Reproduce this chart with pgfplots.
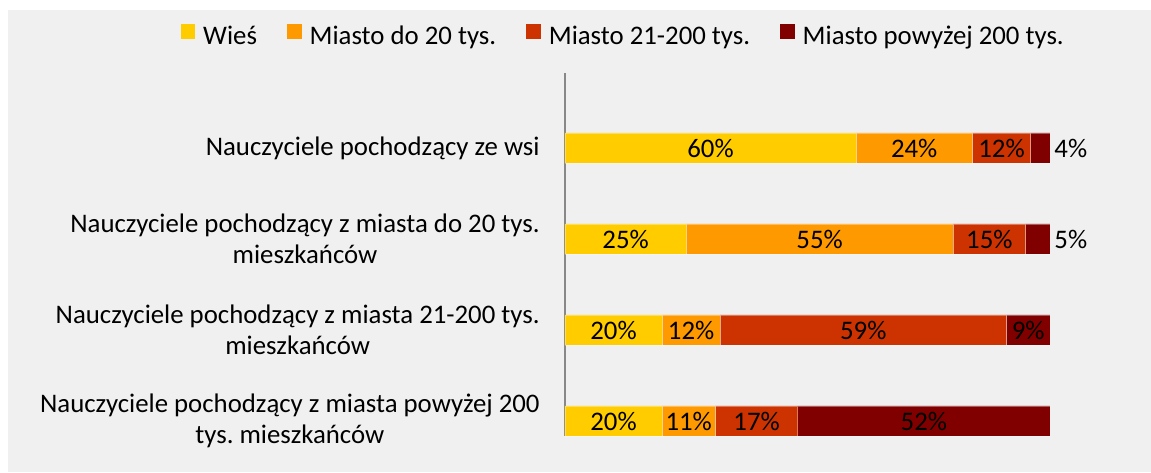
\documentclass[border=0pt]{standalone}
\usepackage{pgfplots}
\pgfplotsset{compat=1.18}
\usepackage{fontspec}
\setmainfont{Carlito}
\frenchspacing

\definecolor{wies}{HTML}{FFCC00}
\definecolor{m20}{HTML}{FF9900}
\definecolor{m200}{HTML}{CC3300}
\definecolor{mbig}{HTML}{800000}
\definecolor{bg}{HTML}{F0F0F0}
\definecolor{axgray}{HTML}{888888}

\newcommand{\lbl}{\fontsize{13.4}{15.5}\selectfont}

\begin{document}
\begin{tikzpicture}
% page and chart area (1px = 0.5pt, axis at x=565px, bottom at y=436px)
\fill[white] (-282.5pt,-18pt) rectangle (293pt,218pt);
\fill[bg] (-278.5pt,-18pt) rectangle (293pt,213pt);

\pgfplotsset{
    common/.style={
        scale only axis,
        width=242.5pt, height=181.5pt,
        xmin=0, xmax=100,
        ymin=-0.824, ymax=3.165,
        y dir=reverse,
    },
}

\begin{axis}[
    common,
    xbar stacked,
    bar width=15pt,
    axis x line=none,
    axis y line*=left,
    y axis line style={axgray, line width=1pt},
    ytick={0,1,2,3},
    yticklabels={
        {Nauczyciele pochodzący ze wsi},
        {Nauczyciele pochodzący z miasta do 20 tys.\\mieszkańców},
        {Nauczyciele pochodzący z miasta 21-200 tys.\\mieszkańców},
        {Nauczyciele pochodzący z miasta powyżej 200\\tys. mieszkańców}},
    yticklabel style={align=center, font=\lbl, inner sep=0pt, xshift=-12.5pt},
    major tick length=0pt,
    every axis plot/.append style={draw=white, draw opacity=0.35, line width=0.4pt},
    legend columns=4,
    legend style={draw=none, fill=none, font=\lbl,
        at={(axis description cs:0.12,1.099)}, anchor=center,
        nodes={inner sep=1pt},
        /tikz/every odd column/.append style={column sep=3pt},
        /tikz/every even column/.append style={column sep=14pt}},
    legend image code/.code={\fill[#1, draw=none] (0pt,-1pt) rectangle (7.3pt,6.3pt);},
]
\addplot[fill=wies] coordinates {(60,0) (25,1) (20,2) (20,3)};
\addplot[fill=m20]  coordinates {(24,0) (55,1) (12,2) (11,3)};
\addplot[fill=m200] coordinates {(12,0) (15,1) (59,2) (17,3)};
\addplot[fill=mbig] coordinates {(4,0) (5,1) (9,2) (52,3)};
\legend{Wieś, Miasto do 20 tys., Miasto 21-200 tys., Miasto powyżej 200 tys.}
\end{axis}

% data labels, centred on each segment (last two outside the bar)
\begin{axis}[common, hide axis, clip=false]
\addplot[draw=none, mark=none, point meta=explicit,
    nodes near coords={\pgfmathprintnumber[assume math mode=true]{\pgfplotspointmeta}\%},
    every node near coord/.append style={anchor=center, font=\lbl, text=black}]
    table[meta=v] {
x y v
30 0 60
72 0 24
90 0 12
104.3 0 4
12.5 1 25
52.5 1 55
87.5 1 15
104.3 1 5
10 2 20
26 2 12
61.5 2 59
95.5 2 9
10 3 20
25.5 3 11
39.5 3 17
74 3 52
};
\end{axis}

\pgfresetboundingbox
\useasboundingbox (-282.5pt,-18pt) rectangle (293pt,218pt);
\end{tikzpicture}
\end{document}
